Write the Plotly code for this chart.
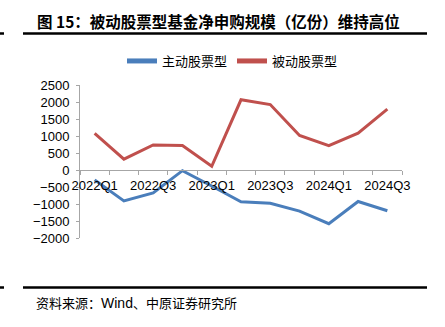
import plotly.graph_objects as go

quarters = ["2022Q1", "2022Q2", "2022Q3", "2022Q4", "2023Q1", "2023Q2",
            "2023Q3", "2023Q4", "2024Q1", "2024Q2", "2024Q3"]
active_equity = [-290, -910, -675, -20, -470, -935, -980, -1210, -1580, -925, -1200]
passive_equity = [1075, 320, 735, 720, 110, 2065, 1925, 1015, 715, 1085, 1790]
y_ticks = [-2000, -1500, -1000, -500, 0, 500, 1000, 1500, 2000, 2500]

W, H = 445, 327
L, R, T, B = 80, 43, 85, 89
plot_h = H - T - B
plot_w = W - L - R


def px_x(px):
    return (px - L) / plot_w


def px_y(py):
    return (H - B - py) / plot_h


BLUE = "#4a7ebb"
RED = "#c0504d"
AXIS = "#a6a6a6"
TXT = "Liberation Sans, Noto Sans CJK SC, Arial, sans-serif"
CJK = "Noto Sans CJK SC, sans-serif"

fig = go.Figure()
fig.add_trace(go.Scatter(x=quarters, y=active_equity, name="主动股票型", mode="lines",
                         line=dict(color=BLUE, width=3)))
fig.add_trace(go.Scatter(x=quarters, y=passive_equity, name="被动股票型", mode="lines",
                         line=dict(color=RED, width=3)))

ymin, ymax = -2000, 2500
zero_pos = (0 - ymin) / (ymax - ymin)

fig.update_layout(
    width=W, height=H,
    margin=dict(l=L, r=R, t=T, b=B),
    paper_bgcolor="white", plot_bgcolor="white",
    font=dict(family=TXT, size=13, color="#000000"),
    showlegend=True,
    legend=dict(orientation="h", x=px_x(122), y=px_y(61), xanchor="left", yanchor="middle",
                font=dict(family=CJK, size=13), itemwidth=30, bgcolor="rgba(0,0,0,0)",
                tracegroupgap=0, itemsizing="constant"),
    xaxis=dict(
        type="category", tickmode="array", tickvals=quarters,
        ticktext=[q if i % 2 == 0 else "" for i, q in enumerate(quarters)],
        tickson="boundaries", ticks="outside", ticklen=4, tickcolor=AXIS,
        showline=True, linecolor=AXIS, linewidth=1, showgrid=False, zeroline=False,
        anchor="free", position=zero_pos, range=[-0.5, 10.5], tickangle=0,
        tickfont=dict(family=TXT, size=13), ticklabelstandoff=3,
    ),
    yaxis=dict(
        range=[ymin, ymax], tickvals=y_ticks, ticks="outside", ticklen=3,
        tickcolor=AXIS, showline=True, linecolor=AXIS, linewidth=1,
        showgrid=False, zeroline=False, tickfont=dict(family=TXT, size=13),
        ticklabelstandoff=4,
    ),
)

# header and footer rules
rules = []
for py in (33.5, 287.5):
    rules.append(dict(type="line", xref="paper", yref="paper", x0=px_x(0), x1=px_x(4),
                      y0=px_y(py), y1=px_y(py), line=dict(color="#000000", width=2.5)))
    rules.append(dict(type="line", xref="paper", yref="paper", x0=px_x(23), x1=px_x(427),
                      y0=px_y(py), y1=px_y(py), line=dict(color="#000000", width=2.5)))
fig.update_layout(shapes=rules)

fig.add_annotation(text="<b>图 15：被动股票型基金净申购规模（亿份）维持高位</b>",
                   xref="paper", yref="paper", x=px_x(35), y=px_y(21),
                   xanchor="left", yanchor="middle", showarrow=False,
                   font=dict(family=CJK, size=15.5, color="#000000"))
fig.add_annotation(text="资料来源：<span style='font-family:Liberation Sans;font-size:14px'>Wind</span>、中原证券研究所",
                   xref="paper", yref="paper", x=px_x(34), y=px_y(302),
                   xanchor="left", yanchor="middle", showarrow=False,
                   font=dict(family=CJK, size=13, color="#000000"))

fig.write_html("out.html")
